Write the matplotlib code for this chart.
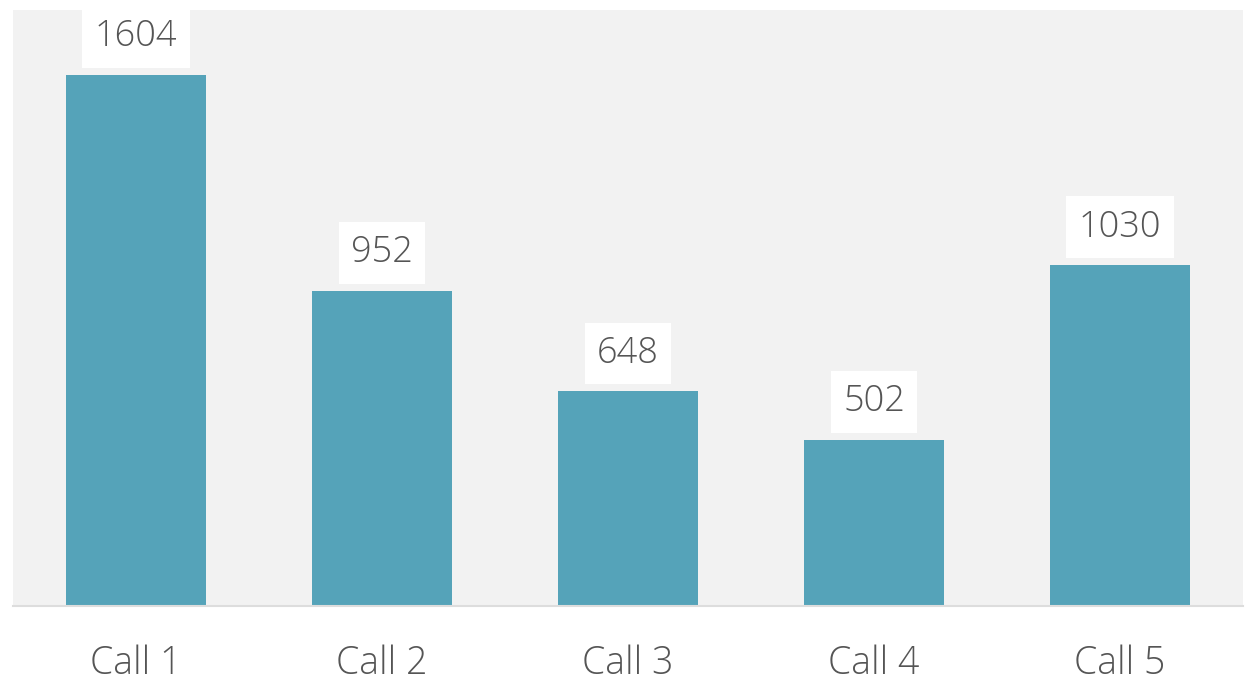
import matplotlib

matplotlib.use("Agg")
import matplotlib.pyplot as plt

categories = ["Call 1", "Call 2", "Call 3", "Call 4", "Call 5"]
values = [1604, 952, 648, 502, 1030]

plt.rcParams["font.family"] = ["Open Sans", "DejaVu Sans"]

fig = plt.figure(figsize=(12.52, 6.91), dpi=100)
ax = fig.add_axes([13 / 1252, 85 / 691, 1230 / 1252, 596 / 691])
ax.set_facecolor("#f2f2f2")

x = range(len(categories))
ax.bar(x, values, width=0.57, color="#55a3b9", zorder=2)
ax.set_xlim(-0.5, len(categories) - 0.5)
ax.set_ylim(0, 1800)

for xi, v in zip(x, values):
    ax.annotate(
        str(v), (xi, v), xytext=(0, 14), textcoords="offset points",
        ha="center", va="bottom", fontsize=26, color="#555555", fontweight="light",
        bbox=dict(boxstyle="square,pad=0.34", fc="white", ec="none"),
    )

ax.set_xticks(list(x))
ax.set_xticklabels(categories, fontsize=27, color="#555555", fontweight="light")
ax.tick_params(axis="x", length=0, pad=28)
ax.set_yticks([])
for side in ("top", "left", "right"):
    ax.spines[side].set_visible(False)
ax.spines["bottom"].set_color("#dddddd")
ax.spines["bottom"].set_linewidth(1.5)

fig.savefig("out.png", dpi=100)
